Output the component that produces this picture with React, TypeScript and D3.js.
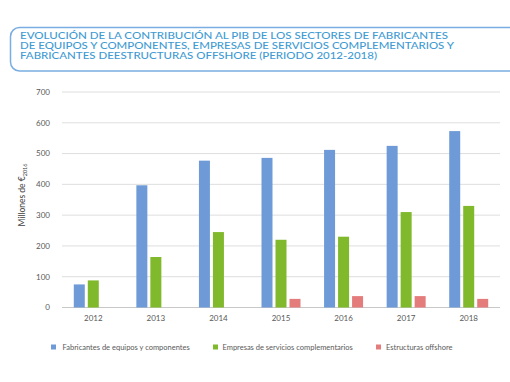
import React from "react";
import * as d3 from "d3";

const years = ["2012", "2013", "2014", "2015", "2016", "2017", "2018"];
const seriesNames = [
  "Fabricantes de equipos y componentes",
  "Empresas de servicios complementarios",
  "Estructuras offshore",
];
const fabricantes = [75, 397, 477, 486, 512, 525, 573];
const empresas = [88, 164, 245, 220, 230, 310, 330];
const offshore: (number | null)[] = [null, null, null, 28, 37, 37, 28];
const yTicks = [0, 100, 200, 300, 400, 500, 600, 700];
const titleLines = [
  "EVOLUCIÓN DE LA CONTRIBUCIÓN AL PIB DE LOS SECTORES DE FABRICANTES",
  "DE EQUIPOS Y COMPONENTES, EMPRESAS DE SERVICIOS COMPLEMENTARIOS Y",
  "FABRICANTES DEESTRUCTURAS OFFSHORE (PERIODO 2012-2018)",
];
const titleWidths = [428, 434, 357];

const colors = ["#6e9bd7", "#80b92c", "#e57c7c"];
const FONT = "Lato, 'Open Sans', sans-serif";

export default function App() {
  const W = 510, H = 382;
  const x = d3.scaleBand().domain(years).range([62, 500]).paddingInner(0).paddingOuter(0);
  const y = d3.scaleLinear().domain([0, 700]).range([307.5, 92]);
  const groupW = 39;
  const xs = d3.scaleBand().domain(seriesNames).range([0, groupW]).paddingInner(3 / 14);
  const off = (x.bandwidth() - groupW) / 2;
  const data = [fabricantes, empresas, offshore];

  const r = 9, bx = 10.5, by1 = 27.5, by2 = 71;
  const boxPath = `M ${W + 5} ${by1} L ${bx + r} ${by1} A ${r} ${r} 0 0 0 ${bx} ${by1 + r} L ${bx} ${by2 - r} A ${r} ${r} 0 0 0 ${bx + r} ${by2} L ${W + 5} ${by2}`;

  const legendItems = [
    { sx: 51, tx: 62.5 },
    { sx: 213, tx: 222.5 },
    { sx: 376, tx: 386 },
  ];

  return (
    <svg width={W} height={H} style={{ position: "absolute", left: 0, top: 0, background: "#fff" }} fontFamily={FONT}>
      <rect width={W} height={H} fill="#fff" />
      <path d={boxPath} fill="none" stroke="#7aaee2" strokeWidth={1.5} />
      {titleLines.map((t, i) => (
        <text key={i} x={20} y={39 + i * 10.2} fontSize={9.2} fill="#3f9bd3" fontWeight={500}
          textLength={titleWidths[i]} lengthAdjust="spacingAndGlyphs">{t}</text>
      ))}
      {yTicks.map((t) => (
        <g key={t}>
          <line x1={62} x2={500} y1={y(t)} y2={y(t)} stroke={t === 0 ? "#c8c8c8" : "#dedede"} strokeWidth={1} />
          <text x={50} y={y(t)} dy="0.35em" textAnchor="end" fontSize={8} fill="#595959">{t}</text>
        </g>
      ))}
      <text transform={`translate(24.5,195) rotate(-90)`} textAnchor="middle" fontSize={8.5} fill="#404040">
        Millones de €<tspan fontSize={5.5} dy={2.5}>2016</tspan>
      </text>
      {data.map((vals, si) =>
        vals.map((v, i) =>
          v == null ? null : (
            <rect key={`${si}-${i}`} x={(x(years[i]) as number) + off + (xs(seriesNames[si]) as number)}
              y={y(v)} width={xs.bandwidth()} height={y(0) - y(v)} fill={colors[si]} />
          )
        )
      )}
      {years.map((yr) => (
        <text key={yr} x={(x(yr) as number) + x.bandwidth() / 2} y={318} dy="0.35em" textAnchor="middle" fontSize={8} fill="#595959">{yr}</text>
      ))}
      {seriesNames.map((n, i) => (
        <g key={n}>
          <rect x={legendItems[i].sx} y={344.5} width={5} height={5} fill={colors[i]} />
          <text x={legendItems[i].tx} y={347} dy="0.35em" fontSize={7.5} fill="#595959">{n}</text>
        </g>
      ))}
    </svg>
  );
}
